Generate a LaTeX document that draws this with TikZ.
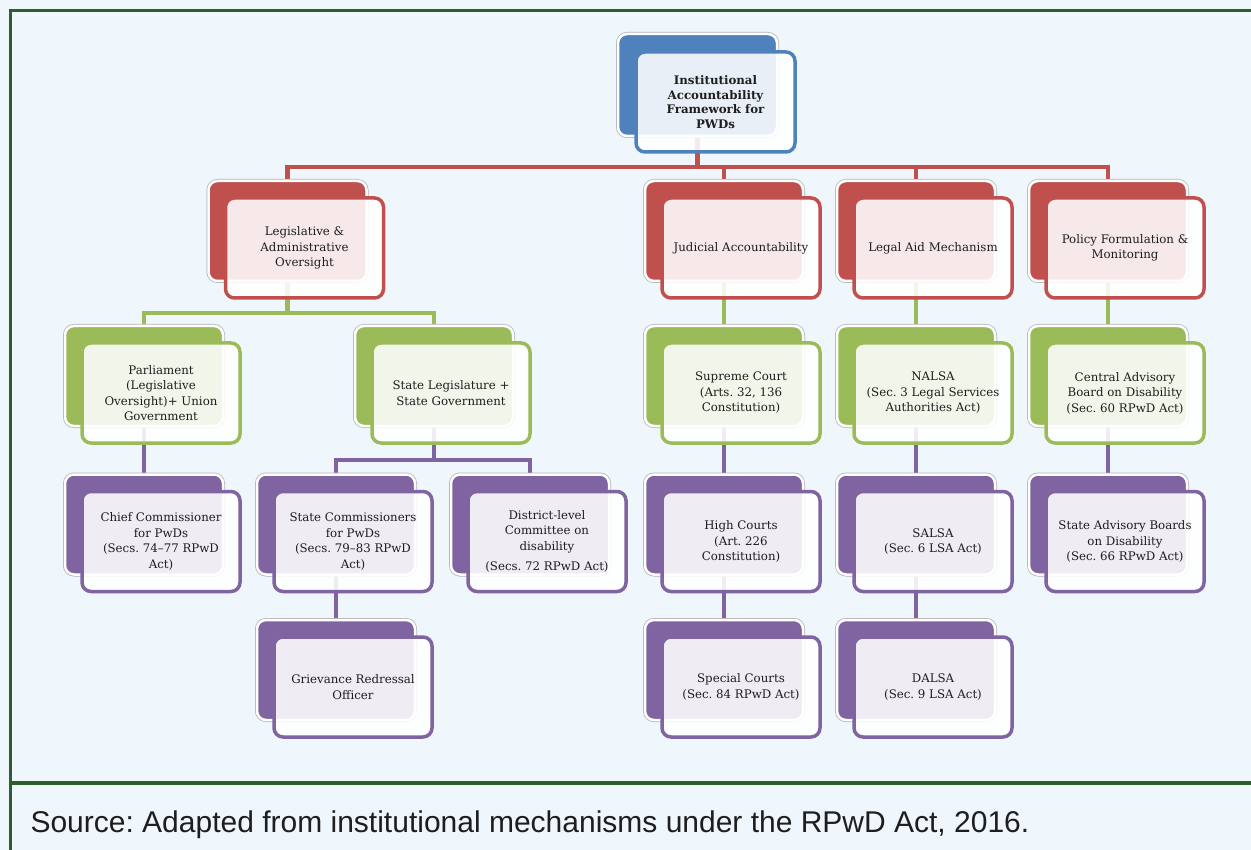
\documentclass[tikz,border=0pt]{standalone}
\usepackage{fontspec}
\setmainfont{DejaVu Serif}
\newfontfamily\capfont{Liberation Sans}
\usetikzlibrary{calc}
\definecolor{bgc}{HTML}{EFF7FD}
\definecolor{cblue}{HTML}{4F81BD}
\definecolor{cred}{HTML}{C0504D}
\definecolor{cgreen}{HTML}{9BBB59}
\definecolor{cpurple}{HTML}{8064A2}
\definecolor{framec}{HTML}{2E5E2C}
\definecolor{txt}{HTML}{1E1E1E}
\pgfdeclarelayer{bglayer}
\pgfdeclarelayer{connlayer}
\pgfsetlayers{bglayer,connlayer,main}
\frenchspacing
\tikzset{
  backbox/.style={rectangle, rounded corners=9pt, minimum width=158pt, minimum height=100pt,
    inner sep=0pt, fill=#1, draw=white, line width=2.5pt,
    preaction={draw=black!30, line width=4pt}},
  frontbox/.style={rectangle, rounded corners=9pt, minimum width=158pt, minimum height=100pt,
    inner sep=0pt, fill=white, fill opacity=0.88, text opacity=1, draw=#1, line width=3.5pt,
    align=center, font=\fontsize{11.8}{15.5}\selectfont, text=txt},
  connline/.style={draw=#1, line width=4.5pt},
}
\newcommand\mkbox[5]{%
  \node[backbox=#2] (#1) at (#3,#4) {};
  \node[frontbox=#2] (#1F) at ([shift={(17,17)}]#1.center) {#5};
}
\begin{document}
\begin{tikzpicture}[x=1pt,y=-1pt]
\useasboundingbox (0,0) rectangle (1251,850);
\clip (0,0) rectangle (1251,850);
\begin{pgfonlayer}{bglayer}
\fill[bgc] (0,0) rectangle (1251,850);
\end{pgfonlayer}
\draw[framec, line width=3pt] (1260,11) -- (10,11) -- (10,860);
\draw[framec, line width=4pt] (10,783) -- (1260,783);

% top node
\node[backbox=cblue, minimum width=159pt, minimum height=102pt] (top) at (697.5,85) {};
\node[frontbox=cblue, minimum width=159pt, minimum height=100pt,
  font=\bfseries\fontsize{11.8}{14.5}\selectfont] (topF) at ([shift={(18,17)}]top.center)
  {Institutional\\Accountability\\Framework for\\PWDs};

% level 1
\mkbox{leg}{cred}{287.5}{231}{Legislative \&\\Administrative\\Oversight}
\mkbox{jud}{cred}{724}{231}{Judicial Accountability}
\mkbox{legal}{cred}{916}{231}{Legal Aid Mechanism}
\mkbox{pol}{cred}{1108}{231}{Policy Formulation \&\\Monitoring}

% level 2
\mkbox{parl}{cgreen}{144}{376}{Parliament\\(Legislative\\Oversight)+ Union\\Government}
\mkbox{stleg}{cgreen}{434}{376}{State Legislature +\\State Government}
\mkbox{sup}{cgreen}{724}{376}{Supreme Court\\(Arts. 32, 136\\Constitution)}
\mkbox{nalsa}{cgreen}{916}{376}{NALSA\\(Sec. 3 Legal Services\\Authorities Act)}
\mkbox{cab}{cgreen}{1108}{376}{Central Advisory\\Board on Disability\\(Sec. 60 RPwD Act)}

% level 3
\mkbox{chief}{cpurple}{144}{524.5}{Chief Commissioner\\for PwDs\\(Secs. 74--77 RPwD\\Act)}
\mkbox{stcomm}{cpurple}{336}{524.5}{State Commissioners\\for PwDs\\(Secs. 79--83 RPwD\\Act)}
\mkbox{dist}{cpurple}{530}{524.5}{District-level\\Committee on\\disability\\[5pt](Secs. 72 RPwD Act)}
\mkbox{high}{cpurple}{724}{524.5}{High Courts\\(Art. 226\\Constitution)}
\mkbox{salsa}{cpurple}{916}{524.5}{SALSA\\(Sec. 6 LSA Act)}
\mkbox{sab}{cpurple}{1108}{524.5}{State Advisory Boards\\on Disability\\(Sec. 66 RPwD Act)}

% level 4
\mkbox{griev}{cpurple}{336}{670}{Grievance Redressal\\Officer}
\mkbox{special}{cpurple}{724}{670}{Special Courts\\(Sec. 84 RPwD Act)}
\mkbox{dalsa}{cpurple}{916}{670}{DALSA\\(Sec. 9 LSA Act)}

\coordinate (redbus) at (0,167);
\coordinate (greenbus) at (0,313);
\coordinate (purplebus) at (0,460);

\begin{pgfonlayer}{connlayer}
\foreach \c in {leg,jud,legal,pol}
  \draw[connline=cred] (top.center) -- (top.center |- redbus) -| (\c.center);
\foreach \c in {parl,stleg}
  \draw[connline=cgreen] (leg.center) -- (leg.center |- greenbus) -| (\c.center);
\foreach \c in {stcomm,dist}
  \draw[connline=cpurple] (stleg.center) -- (stleg.center |- purplebus) -| (\c.center);
\draw[connline=cgreen] (jud.center) -- (sup.center);
\draw[connline=cgreen] (legal.center) -- (nalsa.center);
\draw[connline=cgreen] (pol.center) -- (cab.center);
\draw[connline=cpurple] (parl.center) -- (chief.center);
\draw[connline=cpurple] (stcomm.center) -- (griev.center);
\draw[connline=cpurple] (sup.center) -- (high.center);
\draw[connline=cpurple] (high.center) -- (special.center);
\draw[connline=cpurple] (nalsa.center) -- (salsa.center);
\draw[connline=cpurple] (salsa.center) -- (dalsa.center);
\draw[connline=cpurple] (cab.center) -- (sab.center);
\end{pgfonlayer}

\node[anchor=base west, font=\capfont\fontsize{30}{34}\selectfont, text=txt] (cap) at (27,832)
  {Source: Adapted from institutional mechanisms under the RPwD Act, 2016.};
\end{tikzpicture}
\end{document}
